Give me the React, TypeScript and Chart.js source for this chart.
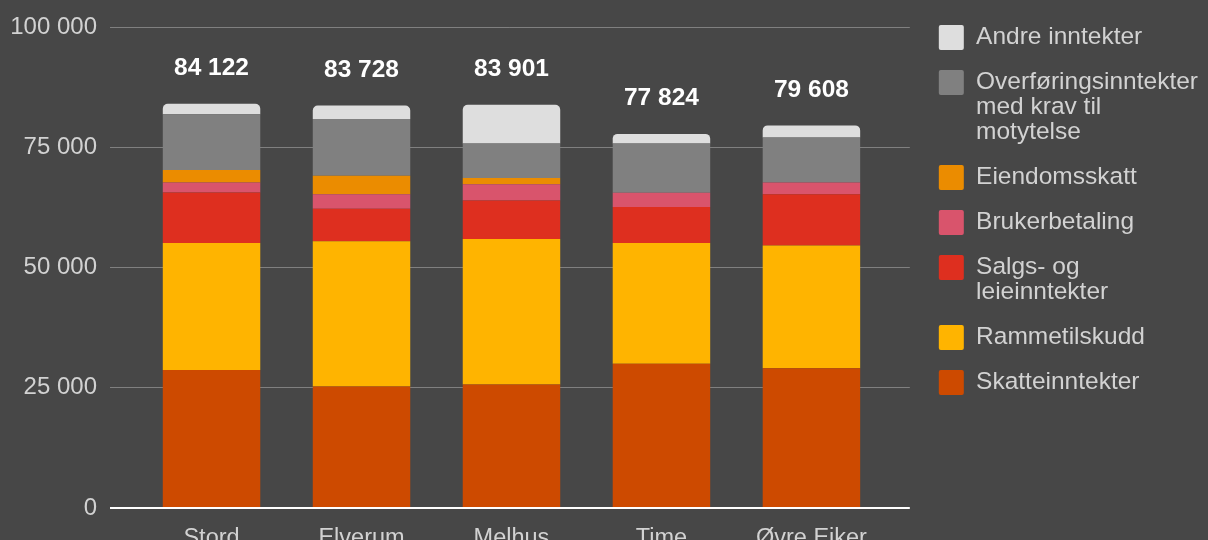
import React, { useEffect, useRef } from 'react';
import { Chart, registerables } from 'chart.js';

Chart.register(...registerables);

// ---- data ----
const categories = ['Stord', 'Elverum', 'Melhus', 'Time', 'Øvre Eiker'];
const categoryIndex = [0, 1, 2, 3, 4];

// bottom-up stack order
const seriesNames = [
  'Skatteinntekter',
  'Rammetilskudd',
  'Salgs- og leieinntekter',
  'Brukerbetaling',
  'Eiendomsskatt',
  'Overføringsinntekter med krav til motytelse',
  'Andre inntekter',
];
const legendLines = [
  ['Skatteinntekter'],
  ['Rammetilskudd'],
  ['Salgs- og', 'leieinntekter'],
  ['Brukerbetaling'],
  ['Eiendomsskatt'],
  ['Overføringsinntekter', 'med krav til', 'motytelse'],
  ['Andre inntekter'],
];

const skatteinntekter = [28700, 25300, 25720, 30000, 29090];
const rammetilskudd = [26450, 30210, 30270, 25160, 25530];
const salgsOgLeie = [10500, 6770, 8000, 7450, 10680];
const brukerbetaling = [2070, 3020, 3370, 2960, 2420];
const eiendomsskatt = [2630, 3810, 1320, 0, 0];
const overforinger = [11580, 11850, 7160, 10280, 9370];
const andreInntekter = [2192, 2768, 8061, 1974, 2518];

const totals = [84122, 83728, 83901, 77824, 79608];
const yTicks = [0, 25000, 50000, 75000, 100000];

const seriesValues = [
  skatteinntekter,
  rammetilskudd,
  salgsOgLeie,
  brukerbetaling,
  eiendomsskatt,
  overforinger,
  andreInntekter,
];
const seriesColors = ['#cd4a00', '#ffb400', '#de2f1f', '#d9546c', '#eb8c00', '#808080', '#dedede'];

// ---- styles ----
const BG = '#474747';
const TEXT = '#d2d2d2';
const GRID = '#808080';
const FAMILY = "'Liberation Sans', Arial, sans-serif";

const fmt = (v: number) => String(Math.round(v)).replace(/\B(?=(\d{3})+(?!\d))/g, ' ');

const backgroundPlugin = {
  id: 'bg',
  beforeDraw(chart: any) {
    const { ctx, width, height } = chart;
    ctx.save();
    ctx.fillStyle = BG;
    ctx.fillRect(0, 0, width, height);
    ctx.restore();
  },
};

const totalsPlugin = {
  id: 'totals',
  afterDatasetsDraw(chart: any) {
    const { ctx } = chart;
    const meta = chart.getDatasetMeta(chart.data.datasets.length - 1);
    ctx.save();
    ctx.font = `bold 24.5px ${FAMILY}`;
    ctx.fillStyle = '#ffffff';
    ctx.textAlign = 'center';
    ctx.textBaseline = 'alphabetic';
    meta.data.forEach((el: any, i: number) => {
      ctx.fillText(fmt(totals[i]), el.x, el.y - 28.7);
    });
    ctx.restore();
  },
};

export default function App() {
  const ref = useRef<HTMLCanvasElement>(null);

  useEffect(() => {
    document.body.style.margin = '0';
    document.body.style.background = BG;
    const canvas = ref.current!;
    const chart = new Chart(canvas, {
      type: 'bar',
      data: {
        labels: categoryIndex,
        datasets: seriesNames.map((name, i) => ({
          label: name,
          data: seriesValues[i],
          backgroundColor: seriesColors[i],
          borderWidth: 0,
          categoryPercentage: 0.65,
          barPercentage: 1,
          borderRadius:
            i === seriesNames.length - 1
              ? { topLeft: 5, topRight: 5, bottomLeft: 0, bottomRight: 0 }
              : 0,
        })),
      },
      options: {
        responsive: false,
        devicePixelRatio: 1,
        animation: false,
        events: [],
        layout: { padding: { left: 10, right: 0, top: 5, bottom: 0 } },
        scales: {
          x: {
            type: 'linear',
            offset: false,
            stacked: true,
            min: -0.677,
            max: 4.656,
            afterBuildTicks: (axis: any) => {
              axis.ticks = categoryIndex.map((v) => ({ value: v }));
            },
            afterFit: (s: any) => {
              s.height = 32;
            },
            grid: { display: false, offset: false },
            border: { display: false },
            ticks: {
              autoSkip: false,
              maxRotation: 0,
              padding: 8,
              color: TEXT,
              font: { family: FAMILY, size: 23.5 },
              callback: (v: any) => categories[v] ?? '',
            },
          },
          y: {
            stacked: true,
            min: yTicks[0],
            max: yTicks[yTicks.length - 1],
            afterBuildTicks: (axis: any) => {
              axis.ticks = yTicks.map((v) => ({ value: v }));
            },
            afterFit: (s: any) => {
              s.width = 100;
            },
            border: { display: false },
            grid: {
              drawTicks: false,
              color: (c: any) => (c.tick && c.tick.value === 0 ? '#ffffff' : GRID),
              lineWidth: (c: any) => (c.tick && c.tick.value === 0 ? 2 : 1),
            },
            ticks: {
              padding: 13,
              color: TEXT,
              font: { family: FAMILY, size: 24 },
              callback: (v: any) => fmt(Number(v)),
            },
          },
          y2: {
            type: 'linear',
            position: 'right',
            display: false,
            afterFit: (s: any) => {
              s.width = 9;
            },
          },
        },
        plugins: {
          title: {
            display: true,
            text: '',
            font: { size: 1, lineHeight: 1 },
            padding: { top: 0, bottom: 19 },
          },
          tooltip: { enabled: false },
          legend: {
            position: 'right',
            align: 'start',
            reverse: true,
            labels: {
              boxWidth: 25,
              boxHeight: 25,
              padding: 20,
              color: TEXT,
              useBorderRadius: true,
              borderRadius: 2,
              font: { family: FAMILY, size: 24.5, lineHeight: 25 / 24.5 },
              generateLabels: (ch: any) => {
                const items = (Chart.defaults.plugins.legend.labels as any).generateLabels(ch);
                return items.map((it: any) => ({ ...it, text: legendLines[it.datasetIndex] }));
              },
            },
          },
        },
      } as any,
      plugins: [backgroundPlugin, totalsPlugin],
    });
    return () => chart.destroy();
  }, []);

  return (
    <div style={{ position: 'absolute', left: 0, top: 0, width: 1208, height: 540, background: BG }}>
      <canvas ref={ref} width={1208} height={540} style={{ display: 'block', width: 1208, height: 540 }} />
    </div>
  );
}
